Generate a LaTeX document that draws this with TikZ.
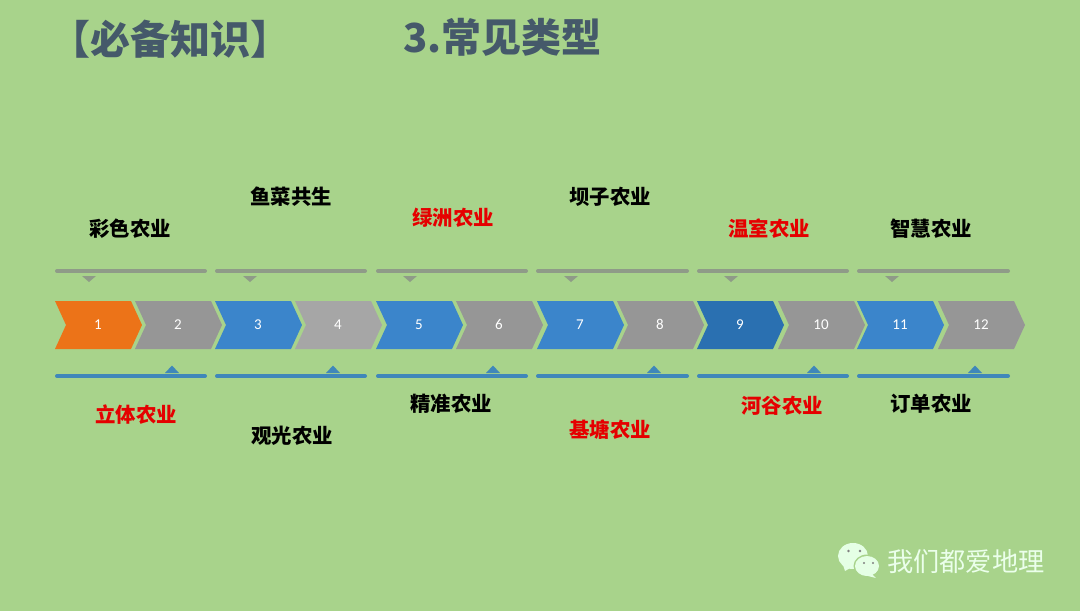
\documentclass[tikz,border=0pt]{standalone}
\usepackage{xcolor}
\usepackage{fontspec}
\setmainfont{Noto Sans CJK SC}
\newfontfamily\numfont[Numbers=Lining]{Carlito}
\usetikzlibrary{positioning, calc}
\definecolor{bgGreen}{HTML}{A8D38B}
\definecolor{titleInk}{HTML}{45596A}
\definecolor{cOrange}{HTML}{EC7318}
\definecolor{cGray}{HTML}{969696}
\definecolor{cLight}{HTML}{A6A6A6}
\definecolor{cBlue}{HTML}{3B85CB}
\definecolor{cDeep}{HTML}{2A70B1}
\definecolor{barGray}{HTML}{8F9B88}
\definecolor{barBlue}{HTML}{3F87BA}
\tikzset{
  title/.style={font=\fontsize{40}{40}\selectfont\bfseries, text=titleInk, inner sep=0pt},
  farm/.style={font=\fontsize{20.4}{21}\selectfont\bfseries, text=black, inner sep=0pt},
  hot/.style={farm, text=red!90!black},
  num/.style={font=\numfont\fontsize{15}{15}\selectfont, text=white, inner sep=0pt, text height=9.5pt, text depth=0pt},
  bar/.style={line width=4pt, line cap=round},
  brand/.style={font=\fontsize{26.2}{27}\selectfont, text=white!92!green, inner sep=0pt},
  bubble/.style={fill=white!90!green},
}
\begin{document}
\begin{tikzpicture}[x=1pt,y=-1pt]
\fill[bgGreen] (0,0) rectangle (1080,611);
\useasboundingbox (0,0) rectangle (1080,611);

\node[title, anchor=west] (head) at (50,39) {【必备知识】};
\node[title, anchor=west] (kind) at (403,37) {3.常见类型};

% chevron row
\foreach \n/\xx/\col in {1/55/cOrange, 2/135/cGray, 3/215/cBlue, 4/295/cLight,
    5/376/cBlue, 6/456/cGray, 7/537/cBlue, 8/617/cGray,
    9/697/cDeep, 10/778/cGray, 11/857/cBlue, 12/938/cGray} {
  \fill[\col] (\xx,301) -- ++(76,0) -- ++(11,24) -- ++(-11,24) -- ++(-76,0) -- ++(11,-24) -- cycle;
  \node[num] (n\n) at ({\xx+43},325) {\n};
}

% bars and markers
\foreach \i/\xa/\xb/\ta/\tb in {1/57/205/89/172, 2/217/365/250/333, 3/378/526/410/493,
    4/538/687/571/654, 5/699/847/731/814, 6/859/1008/892/975} {
  \coordinate (ta\i) at (\xa,271);
  \coordinate (tb\i) at (\xb,271);
  \coordinate (ba\i) at (\xa,376);
  \coordinate (bb\i) at (\xb,376);
  \draw[bar, barGray] (ta\i) -- (tb\i);
  \draw[bar, barBlue] (ba\i) -- (bb\i);
  \fill[barGray] (\ta-7,276) -- (\ta+7,276) -- (\ta,282) -- cycle;
  \fill[barBlue] (\tb-7,373) -- (\tb+7,373) -- (\tb,365.5) -- cycle;
}

% upper labels
\node[farm] (colour) at (130,229) {彩色农业};
\node[farm] (fish) at (291,197) {鱼菜共生};
\node[hot] (oasis) at (453,218) {绿洲农业};
\node[farm] (dam) at (610,197) {坝子农业};
\node[hot] (green) at (769,229) {温室农业};
\node[farm] (smart) at (931,229) {智慧农业};
% lower labels
\node[hot] (layer) at (136,415) {立体农业};
\node[farm] (tour) at (292,436) {观光农业};
\node[farm] (exact) at (451,404) {精准农业};
\node[hot] (pond) at (610,430) {基塘农业};
\node[hot] (river) at (782,406) {河谷农业};
\node[farm] (order) at (931,404) {订单农业};

% logo
\fill[bubble] (853,556) ellipse (15 and 13);
\fill[bubble] (843,565) -- (845,571) -- (852,567) -- cycle;
\fill[bgGreen] (867,566) ellipse (13.5 and 11.5);
\fill[bubble] (867,566) ellipse (12 and 10);
\fill[bubble] (871,573) -- (876,578) -- (864,575) -- cycle;
\fill[gray] (848.5,551) circle (1.4) (860,551) circle (1.4) (864,563) circle (1.2) (873,563) circle (1.2);
\node[brand, anchor=west] (brand) at (887,562) {我们都爱地理};
\end{tikzpicture}
\end{document}
